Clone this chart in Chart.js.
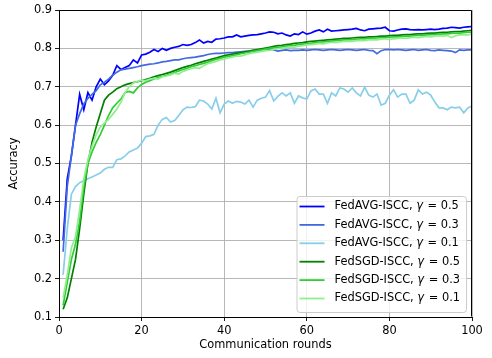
<!DOCTYPE html>
<html>
<head>
<meta charset="utf-8">
<script src="https://cdn.jsdelivr.net/npm/chart.js@4.4.1/dist/chart.umd.min.js"></script>
<style>
  html, body { margin: 0; padding: 0; background: #fff; }
  #chart { display: block; }
</style>
</head>
<body>
<canvas id="chart" width="492" height="358"></canvas>
<script>
// ---- datos ----
const rounds = Array.from({ length: 100 }, (_, i) => i + 1);

const methods = ['FedAVG-ISCC', 'FedAVG-ISCC', 'FedAVG-ISCC', 'FedSGD-ISCC', 'FedSGD-ISCC', 'FedSGD-ISCC'];
const gammas = ['0.5', '0.3', '0.1', '0.5', '0.3', '0.1'];

const fedavg05 = [
  0.30, 0.46, 0.52, 0.60, 0.68, 0.64, 0.685, 0.665, 0.70, 0.72,
  0.705, 0.715, 0.73, 0.755, 0.745, 0.75, 0.755, 0.77, 0.762, 0.783,
  0.785, 0.79, 0.797, 0.792, 0.80, 0.795, 0.80, 0.803, 0.805, 0.81,
  0.808, 0.81, 0.815, 0.822, 0.814, 0.818, 0.816, 0.824, 0.825, 0.827,
  0.83, 0.83, 0.835, 0.83, 0.832, 0.834, 0.835, 0.836, 0.838, 0.84,
  0.843, 0.842, 0.838, 0.84, 0.835, 0.832, 0.838, 0.836, 0.843, 0.837,
  0.84, 0.845, 0.848, 0.843, 0.85, 0.845, 0.846, 0.847, 0.848, 0.849,
  0.85, 0.852, 0.848, 0.846, 0.85, 0.851, 0.852, 0.853, 0.855, 0.846,
  0.845, 0.848, 0.85, 0.851, 0.849, 0.848, 0.849, 0.848, 0.849, 0.85,
  0.849, 0.85, 0.852, 0.853, 0.855, 0.854, 0.853, 0.855, 0.856, 0.857,
];

const fedavg03 = [
  0.27, 0.44, 0.52, 0.60, 0.63, 0.655, 0.67, 0.68, 0.69, 0.705,
  0.712, 0.72, 0.73, 0.738, 0.744, 0.746, 0.748, 0.75, 0.752, 0.755,
  0.757, 0.759, 0.76, 0.762, 0.765, 0.766, 0.768, 0.77, 0.77, 0.773,
  0.775, 0.776, 0.777, 0.779, 0.781, 0.784, 0.786, 0.787, 0.787, 0.788,
  0.789, 0.789, 0.79, 0.791, 0.792, 0.793, 0.795, 0.795, 0.796, 0.797,
  0.798, 0.796, 0.793, 0.795, 0.796, 0.794, 0.795, 0.795, 0.796, 0.795,
  0.796, 0.797, 0.796, 0.795, 0.796, 0.797, 0.796, 0.795, 0.796, 0.797,
  0.796, 0.795, 0.796, 0.797, 0.795, 0.794, 0.786, 0.794, 0.797, 0.797,
  0.796, 0.797, 0.796, 0.795, 0.796, 0.797, 0.795, 0.796, 0.797, 0.795,
  0.794, 0.796, 0.795, 0.794, 0.793, 0.789, 0.796, 0.795, 0.796, 0.796,
];

const fedavg01 = [
  0.21, 0.33, 0.42, 0.44, 0.45, 0.455, 0.46, 0.465, 0.47, 0.475,
  0.485, 0.49, 0.49, 0.51, 0.512, 0.52, 0.53, 0.535, 0.54, 0.553,
  0.57, 0.572, 0.576, 0.60, 0.615, 0.62, 0.608, 0.612, 0.625, 0.64,
  0.647, 0.646, 0.648, 0.665, 0.663, 0.655, 0.642, 0.67, 0.632, 0.655,
  0.663, 0.657, 0.662, 0.66, 0.655, 0.665, 0.647, 0.665, 0.67, 0.673,
  0.69, 0.663, 0.675, 0.684, 0.676, 0.684, 0.657, 0.676, 0.671, 0.668,
  0.689, 0.694, 0.681, 0.681, 0.657, 0.684, 0.676, 0.697, 0.694, 0.686,
  0.697, 0.684, 0.676, 0.699, 0.678, 0.673, 0.681, 0.652, 0.657, 0.678,
  0.692, 0.673, 0.681, 0.681, 0.657, 0.665, 0.692, 0.681, 0.686, 0.678,
  0.66, 0.645, 0.645, 0.64, 0.647, 0.645, 0.647, 0.632, 0.645, 0.65,
];

const fedsgd05 = [
  0.12, 0.15, 0.20, 0.25, 0.33, 0.42, 0.50, 0.555, 0.595, 0.63,
  0.665, 0.678, 0.686, 0.695, 0.70, 0.705, 0.708, 0.711, 0.713, 0.716,
  0.719, 0.722, 0.726, 0.729, 0.732, 0.735, 0.738, 0.742, 0.746, 0.75,
  0.753, 0.756, 0.76, 0.763, 0.766, 0.769, 0.772, 0.775, 0.778, 0.781,
  0.783, 0.785, 0.787, 0.789, 0.791, 0.793, 0.795, 0.797, 0.799, 0.801,
  0.803, 0.805, 0.807, 0.808, 0.81, 0.811, 0.813, 0.814, 0.815, 0.817,
  0.818, 0.819, 0.82, 0.821, 0.822, 0.823, 0.824, 0.825, 0.826, 0.826,
  0.827, 0.828, 0.829, 0.829, 0.83, 0.83, 0.831, 0.832, 0.832, 0.833,
  0.834, 0.834, 0.835, 0.836, 0.836, 0.837, 0.838, 0.838, 0.839, 0.84,
  0.84, 0.841, 0.842, 0.842, 0.843, 0.844, 0.844, 0.845, 0.846, 0.847,
];

const fedsgd03 = [
  0.13, 0.19, 0.25, 0.29, 0.35, 0.44, 0.50, 0.53, 0.555, 0.575,
  0.60, 0.625, 0.645, 0.657, 0.668, 0.685, 0.688, 0.684, 0.697, 0.706,
  0.712, 0.716, 0.72, 0.724, 0.727, 0.73, 0.733, 0.737, 0.741, 0.745,
  0.748, 0.752, 0.755, 0.758, 0.761, 0.764, 0.768, 0.771, 0.774, 0.777,
  0.779, 0.781, 0.783, 0.786, 0.788, 0.79, 0.792, 0.794, 0.796, 0.798,
  0.80, 0.802, 0.803, 0.804, 0.806, 0.807, 0.808, 0.81, 0.811, 0.812,
  0.813, 0.815, 0.816, 0.817, 0.818, 0.819, 0.82, 0.821, 0.822, 0.822,
  0.823, 0.824, 0.825, 0.825, 0.826, 0.826, 0.827, 0.828, 0.828, 0.829,
  0.83, 0.83, 0.831, 0.832, 0.832, 0.833, 0.834, 0.834, 0.835, 0.836,
  0.836, 0.837, 0.838, 0.838, 0.839, 0.84, 0.84, 0.841, 0.842, 0.842,
];

const fedsgd01 = [
  0.15, 0.21, 0.28, 0.31, 0.38, 0.46, 0.51, 0.545, 0.575, 0.595,
  0.605, 0.615, 0.628, 0.642, 0.66, 0.685, 0.70, 0.71, 0.714, 0.717,
  0.716, 0.72, 0.722, 0.72, 0.726, 0.728, 0.731, 0.735, 0.733, 0.74,
  0.744, 0.747, 0.75, 0.748, 0.755, 0.76, 0.763, 0.766, 0.77, 0.772,
  0.775, 0.777, 0.78, 0.78, 0.783, 0.786, 0.788, 0.79, 0.792, 0.794,
  0.795, 0.797, 0.799, 0.80, 0.802, 0.804, 0.803, 0.806, 0.807, 0.809,
  0.81, 0.811, 0.813, 0.812, 0.814, 0.816, 0.815, 0.817, 0.818, 0.819,
  0.818, 0.82, 0.821, 0.82, 0.822, 0.823, 0.822, 0.824, 0.825, 0.823,
  0.825, 0.826, 0.827, 0.826, 0.828, 0.829, 0.828, 0.83, 0.831, 0.83,
  0.832, 0.833, 0.832, 0.834, 0.828, 0.833, 0.835, 0.836, 0.835, 0.837,
];

const series = [fedavg05, fedavg03, fedavg01, fedsgd05, fedsgd03, fedsgd01];
const colors = ['#0000ff', '#4169e1', '#87ceeb', '#008000', '#32cd32', '#90ee90'];

const FONT = "'DejaVu Sans', sans-serif";
const FS = 11.4;

// ---- leyenda estilo matplotlib, dentro del área del gráfico ----
const mplLegend = {
  id: 'mplLegend',
  afterDraw(chart) {
    const { ctx, chartArea } = chart;
    const rowH = 18.4;
    const handle = 25;
    ctx.save();
    ctx.textBaseline = 'middle';

    // medir el texto más ancho
    const parts = methods.map((m, i) => [m + ', ', 'γ', ' = ' + gammas[i]]);
    let maxW = 0;
    parts.forEach(p => {
      ctx.font = `${FS}px ${FONT}`;
      let w = ctx.measureText(p[0]).width + ctx.measureText(p[2]).width;
      ctx.font = `italic ${FS}px ${FONT}`;
      w += ctx.measureText(p[1]).width + 1;
      maxW = Math.max(maxW, w);
    });

    const boxW = 3 + handle + 10 + maxW + 6;
    const boxH = 116;
    const x0 = chartArea.right - 6 - boxW;
    const y0 = chartArea.bottom - 5 - boxH;

    ctx.beginPath();
    ctx.roundRect(x0 + 0.5, y0 + 0.5, boxW, boxH, 3);
    ctx.fillStyle = 'rgba(255,255,255,0.8)';
    ctx.fill();
    ctx.strokeStyle = '#cccccc';
    ctx.lineWidth = 1;
    ctx.stroke();

    parts.forEach((p, i) => {
      const y = y0 + 10.5 + i * rowH;
      ctx.beginPath();
      ctx.moveTo(x0 + 3, y);
      ctx.lineTo(x0 + 3 + handle, y);
      ctx.strokeStyle = colors[i];
      ctx.lineWidth = 1.8;
      ctx.stroke();

      let tx = x0 + 3 + handle + 10;
      ctx.fillStyle = '#000';
      ctx.font = `${FS}px ${FONT}`;
      ctx.fillText(p[0], tx, y);
      tx += ctx.measureText(p[0]).width;
      ctx.font = `italic ${FS}px ${FONT}`;
      ctx.fillText(p[1], tx, y);
      tx += ctx.measureText(p[1]).width + 1;
      ctx.font = `${FS}px ${FONT}`;
      ctx.fillText(p[2], tx, y);
    });
    ctx.restore();
  },
};

// ---- ejes superior y derecho ----
const frame = {
  id: 'frame',
  afterDatasetsDraw(chart) {
    const { ctx, chartArea: a } = chart;
    ctx.save();
    ctx.strokeStyle = '#000';
    ctx.lineWidth = 1;
    ctx.beginPath();
    ctx.moveTo(Math.round(a.left) + 0.5, Math.round(a.top) + 0.5);
    ctx.lineTo(Math.round(a.right) - 0.5, Math.round(a.top) + 0.5);
    ctx.lineTo(Math.round(a.right) - 0.5, Math.round(a.bottom) - 0.5);
    ctx.stroke();
    ctx.restore();
  },
};

Chart.defaults.font.family = FONT;
Chart.defaults.font.size = FS;
Chart.defaults.color = '#000';

new Chart(document.getElementById('chart'), {
  type: 'line',
  data: {
    datasets: series.map((s, i) => ({
      label: `${methods[i]}, γ = ${gammas[i]}`,
      data: s.map((v, k) => ({ x: rounds[k], y: v })),
      borderColor: colors[i],
      backgroundColor: colors[i],
      borderWidth: 1.7,
      pointRadius: 0,
      tension: 0,
      fill: false,
      order: series.length - i,
    })),
  },
  options: {
    responsive: false,
    animation: false,
    devicePixelRatio: 1,
    layout: { padding: { left: 0, right: 20, top: 10, bottom: 0 } },
    plugins: {
      legend: { display: false },
      tooltip: { enabled: false },
    },
    scales: {
      x: {
        type: 'linear',
        min: 0,
        max: 100,
        ticks: { stepSize: 20, padding: 3, color: '#000', maxRotation: 0 },
        grid: { color: '#b0b0b0', lineWidth: 0.9, tickColor: '#000', tickLength: 4 },
        border: { color: '#000', width: 1 },
        title: { display: true, text: 'Communication rounds', color: '#000', padding: { top: 0, bottom: 6 } },
        afterFit(s) { s.height = 41; },
      },
      y: {
        min: 0.1,
        max: 0.9,
        ticks: {
          stepSize: 0.1,
          padding: 3,
          color: '#000',
          callback: v => v.toFixed(1),
        },
        grid: { color: '#b0b0b0', lineWidth: 0.9, tickColor: '#000', tickLength: 4 },
        border: { color: '#000', width: 1 },
        title: { display: true, text: 'Accuracy', color: '#000', padding: { top: 7, bottom: 0 } },
        afterFit(s) { s.width = 59; },
      },
    },
  },
  plugins: [frame, mplLegend],
});
</script>
</body>
</html>
